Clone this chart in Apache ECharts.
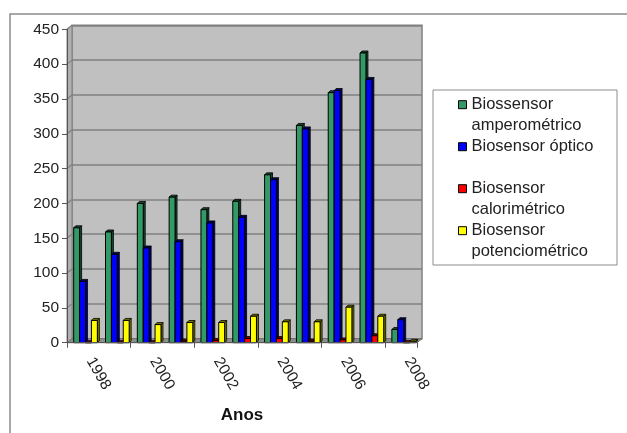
<!DOCTYPE html>
<html>
<head>
<meta charset="utf-8">
<script src="https://cdn.jsdelivr.net/npm/echarts@6/dist/echarts.min.js"></script>
<style>
  html, body { margin: 0; padding: 0; background: #ffffff; }
  #chart { width: 627px; height: 433px; }
</style>
</head>
<body>
<div id="chart"></div>
<script>
// Publication counts per year and biosensor type
const years = ['1998', '1999', '2000', '2001', '2002', '2003', '2004', '2005', '2006', '2007', '2008'];
const amperometrico = [165, 159, 200, 209, 191, 203, 241, 312, 359, 416, 19];
const optico = [88, 127, 136, 145, 172, 180, 234, 307, 362, 378, 33];
const calorimetrico = [0, 0, 0, 2, 3, 6, 6, 2, 4, 10, 0];
const potenciometrico = [32, 32, 26, 29, 29, 38, 30, 30, 51, 38, 2];

const seriesNames = ['Biossensor amperométrico', 'Biosensor óptico', 'Biosensor calorimétrico', 'Biosensor potenciométrico'];
// each legend entry: blank line, first line (aligned with the swatch), second line
const legendText = ['\nBiossensor\namperométrico', '\nBiosensor óptico\n ', '\nBiosensor\ncalorimétrico', '\nBiosensor\npotenciométrico'];
const seriesValues = [amperometrico, optico, calorimetrico, potenciometrico];

const yMin = 0, yMax = 450, yStep = 50;

// styling
const FONT = '"Liberation Sans", Arial, sans-serif';
const frontColors = ['#339966', '#0000ff', '#ff0000', '#ffff00'];
const sideColors = ['#174a30', '#00006e', '#7a0000', '#7a7a00'];
const G = { left: 67, right: 210, top: 29.3, bottom: 90.3 };   // front plane of the plot
const WALL = { dx: 5, dy: 4 };                                  // depth offset of the back wall
const BAR_D = 2;                                                // depth of each bar
const LINE_H = 21;

const chart = echarts.init(document.getElementById('chart'), null, { renderer: 'canvas' });

function barRenderer(si) {
  return function (params, api) {
    const cat = api.value(0);
    const val = api.value(1);
    const base = api.coord([cat, 0]);
    const top = api.coord([cat, val]);
    const band = api.size([1, 0])[0];
    const w = band * 0.186;
    const x0 = base[0] - band / 2 + band * 0.21 + si * w;
    const x1 = x0 + w;
    const yb = base[1], yt = top[1];
    const d = BAR_D;
    return {
      type: 'group',
      children: [
        { type: 'polygon', shape: { points: [[x1, yt], [x1 + d, yt - d], [x1 + d, yb - d], [x1, yb]] },
          style: { fill: sideColors[si], stroke: '#000', lineWidth: 0.8 } },
        { type: 'polygon', shape: { points: [[x0, yt], [x0 + d, yt - d], [x1 + d, yt - d], [x1, yt]] },
          style: { fill: sideColors[si], stroke: '#000', lineWidth: 0.8 } },
        { type: 'rect', shape: { x: x0, y: yt, width: w, height: Math.max(yb - yt, 0) },
          style: { fill: frontColors[si], stroke: '#000', lineWidth: 1 } }
      ]
    };
  };
}

const series = seriesValues.map(function (vals, si) {
  return {
    name: seriesNames[si],
    type: 'custom',
    xAxisIndex: 0,
    yAxisIndex: 0,
    itemStyle: { color: frontColors[si], borderColor: '#000', borderWidth: 1 },
    encode: { x: 0, y: 1 },
    data: vals.map(function (v, i) { return [i, v]; }),
    renderItem: barRenderer(si),
    z: 2
  };
});

chart.setOption({
  animation: false,
  backgroundColor: '#ffffff',
  grid: [
    { left: G.left, right: G.right, top: G.top, bottom: G.bottom, containLabel: false },
    { left: G.left + WALL.dx, right: G.right - WALL.dx, top: G.top - WALL.dy, bottom: G.bottom + WALL.dy,
      show: true, backgroundColor: '#c0c0c0', borderColor: '#808080', borderWidth: 1.5, z: 0 }
  ],
  xAxis: [
    {
      type: 'category', gridIndex: 0, data: years, z: 3,
      name: 'Anos', nameLocation: 'middle', nameGap: 64,
      nameTextStyle: { fontFamily: FONT, fontSize: 17, fontWeight: 'bold', color: '#111' },
      axisLine: { lineStyle: { color: '#555', width: 1 } },
      axisTick: { show: true, alignWithLabel: false, length: 5, lineStyle: { color: '#555' } },
      axisLabel: { interval: 1, rotate: -60, margin: 20, verticalAlign: 'bottom',
        fontFamily: FONT, fontSize: 15.5, color: '#222' }
    },
    { type: 'category', gridIndex: 1, data: years, show: false }
  ],
  yAxis: [
    {
      type: 'value', gridIndex: 0, min: yMin, max: yMax, interval: yStep, z: 3,
      axisLine: { show: true, lineStyle: { color: '#555', width: 1 } },
      axisTick: { show: true, length: 5, lineStyle: { color: '#555' } },
      axisLabel: { margin: 8, fontFamily: FONT, fontSize: 15.5, color: '#222' },
      splitLine: { show: false }
    },
    {
      type: 'value', gridIndex: 1, min: yMin, max: yMax, interval: yStep,
      axisLine: { show: false }, axisTick: { show: false }, axisLabel: { show: false },
      splitLine: { show: true, lineStyle: { color: '#808080', width: 1.5 } }
    }
  ],
  legend: {
    orient: 'vertical',
    left: 453, top: 99.7 - 1.5 * LINE_H,
    itemWidth: 8, itemHeight: 8, itemGap: -LINE_H,
    icon: 'rect',
    itemStyle: { borderColor: '#000', borderWidth: 1 },
    data: seriesNames,
    formatter: function (name) { return legendText[seriesNames.indexOf(name)]; },
    textStyle: { fontFamily: FONT, fontSize: 16.5, lineHeight: LINE_H, color: '#222' }
  },
  series: series
});

// side wall, floor and frames built from the axis scale
const yPix = function (v) { return chart.convertToPixel({ yAxisIndex: 0 }, v); };
const x0Pix = G.left;
const x1Pix = 627 - G.right;
const yBottom = yPix(yMin);
const yTop = yPix(yMax);
const deco = [];
deco.push({ type: 'rect', z: -1, shape: { x: 10, y: 14, width: 800, height: 600 },
  style: { fill: 'none', stroke: '#8c8c8c', lineWidth: 1.5 } });
deco.push({ type: 'polygon', z: 1,
  shape: { points: [[x0Pix, yBottom], [x0Pix, yTop], [x0Pix + WALL.dx, yTop - WALL.dy], [x0Pix + WALL.dx, yBottom - WALL.dy]] },
  style: { fill: '#b0b0b0', stroke: '#808080', lineWidth: 1 } });
deco.push({ type: 'polygon', z: 1,
  shape: { points: [[x0Pix, yBottom], [x1Pix, yBottom], [x1Pix + WALL.dx, yBottom - WALL.dy], [x0Pix + WALL.dx, yBottom - WALL.dy]] },
  style: { fill: '#8f8f8f', stroke: '#707070', lineWidth: 1 } });
for (let v = yMin; v <= yMax; v += yStep) {
  const y = yPix(v);
  deco.push({ type: 'line', z: 1, shape: { x1: x0Pix, y1: y, x2: x0Pix + WALL.dx, y2: y - WALL.dy },
    style: { stroke: '#808080', lineWidth: 1.2 } });
}
deco.push({ type: 'rect', z: 1, shape: { x: 433, y: 90, width: 184, height: 175 },
  style: { fill: '#ffffff', stroke: '#8c8c8c', lineWidth: 1 } });
chart.setOption({ graphic: { elements: deco } });
</script>
</body>
</html>
